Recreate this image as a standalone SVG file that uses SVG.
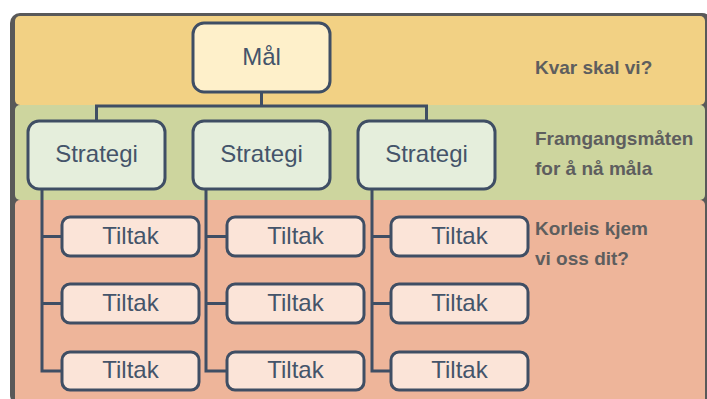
<svg xmlns="http://www.w3.org/2000/svg" width="707" height="399" viewBox="0 0 707 399">
<style>
.box{stroke:#3F4E64;stroke-width:3}
.goal{fill:#FEF0CA}
.strat{fill:#E5EEDC}
.act{fill:#FBE4D8}
.lbl{font-family:"Liberation Sans",Arial,sans-serif;font-size:24px;fill:#44546A;text-anchor:middle}
.side{font-family:"Liberation Sans",Arial,sans-serif;font-size:19px;font-weight:bold;fill:#5E5E5E}
.conn{fill:none;stroke:#3F4E64;stroke-width:3}
</style>
<rect width="707" height="399" fill="#FFFFFF"/>
<g id="frame">
<rect x="10" y="13" width="702" height="392" rx="10" fill="#595959"/>
<rect x="15" y="16" width="690" height="89" rx="5" fill="#F2D184"/>
<rect x="15" y="105" width="690" height="95" rx="5" fill="#CDD59E"/>
<rect x="15" y="200" width="690" height="205" rx="5" fill="#EEB59A"/>
</g>
<g id="side-labels">
<text class="side" x="535" y="74">Kvar skal vi?</text>
<text class="side" x="535" y="145">Framgangsmåten</text>
<text class="side" x="535" y="175">for å nå måla</text>
<text class="side" x="535" y="235">Korleis kjem</text>
<text class="side" x="535" y="265">vi oss dit?</text>
</g>
<g id="connectors">
<path class="conn" d="M261.5 92 V106 M96.5 121 V106 H426.5 V121"/>
<path class="conn" d="M42 189 V371 H62 M42 236.5 H62 M42 303.5 H62"/>
<path class="conn" d="M206 189 V371 H227 M206 236.5 H227 M206 303.5 H227"/>
<path class="conn" d="M372 189 V371 H391 M372 236.5 H391 M372 303.5 H391"/>
</g>
<g id="goal">
<rect class="box goal" x="193" y="23" width="137" height="69" rx="11"/>
<text class="lbl" x="261.5" y="65">Mål</text>
</g>
<g id="strategy1">
<rect class="box strat" x="28" y="121" width="137" height="68" rx="11"/>
<text class="lbl" x="96.5" y="162">Strategi</text>
</g>
<g id="strategy2">
<rect class="box strat" x="193" y="121" width="137" height="68" rx="11"/>
<text class="lbl" x="261.5" y="162">Strategi</text>
</g>
<g id="strategy3">
<rect class="box strat" x="358" y="121" width="137" height="68" rx="11"/>
<text class="lbl" x="426.5" y="162">Strategi</text>
</g>
<g id="action1-1"><rect class="box act" x="62" y="217" width="137" height="39" rx="8"/><text class="lbl" x="130.5" y="244">Tiltak</text></g>
<g id="action1-2"><rect class="box act" x="62" y="284" width="137" height="39" rx="8"/><text class="lbl" x="130.5" y="311">Tiltak</text></g>
<g id="action1-3"><rect class="box act" x="62" y="352" width="137" height="38" rx="8"/><text class="lbl" x="130.5" y="378">Tiltak</text></g>
<g id="action2-1"><rect class="box act" x="227" y="217" width="137" height="39" rx="8"/><text class="lbl" x="295.5" y="244">Tiltak</text></g>
<g id="action2-2"><rect class="box act" x="227" y="284" width="137" height="39" rx="8"/><text class="lbl" x="295.5" y="311">Tiltak</text></g>
<g id="action2-3"><rect class="box act" x="227" y="352" width="137" height="38" rx="8"/><text class="lbl" x="295.5" y="378">Tiltak</text></g>
<g id="action3-1"><rect class="box act" x="391" y="217" width="137" height="39" rx="8"/><text class="lbl" x="459.5" y="244">Tiltak</text></g>
<g id="action3-2"><rect class="box act" x="391" y="284" width="137" height="39" rx="8"/><text class="lbl" x="459.5" y="311">Tiltak</text></g>
<g id="action3-3"><rect class="box act" x="391" y="352" width="137" height="38" rx="8"/><text class="lbl" x="459.5" y="378">Tiltak</text></g>
</svg>
